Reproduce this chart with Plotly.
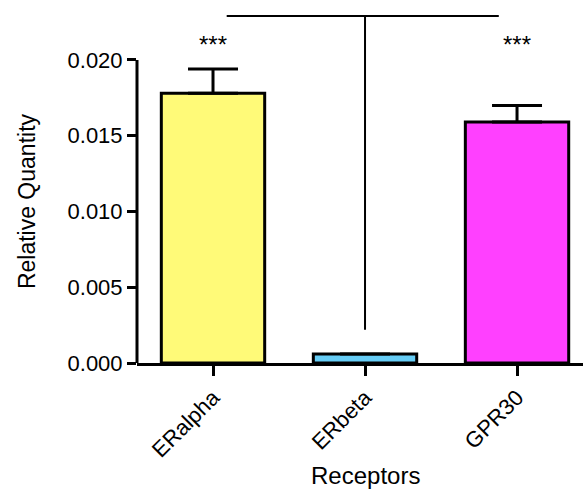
import plotly.graph_objects as go

# Relative expression of estrogen receptors
receptors = ["ERalpha", "ERbeta", "GPR30"]
quantity = [0.0178, 0.0006, 0.0159]
sem_upper = [0.0016, 0.0, 0.0011]
bar_colors = ["#FFFA78", "#66CCF5", "#FF40FF"]
significance = ["***", "", "***"]
y_ticks = [0.000, 0.005, 0.010, 0.015, 0.020]
y_tick_text = ["0.000", "0.005", "0.010", "0.015", "0.020"]

FONT = "Liberation Sans, Arial, sans-serif"

fig = go.Figure()
fig.add_trace(go.Bar(
    x=receptors,
    y=quantity,
    width=0.68,
    marker=dict(color=bar_colors, line=dict(color="black", width=3)),
    error_y=dict(type="data", symmetric=False, array=sem_upper,
                 arrayminus=[0] * len(sem_upper),
                 color="black", thickness=3, width=25),
    showlegend=False,
))

# significance stars above the bars
for r, s in zip(receptors, significance):
    if s:
        fig.add_annotation(x=r, y=0.0210, text=s, showarrow=False,
                           font=dict(family=FONT, size=24, color="black"),
                           xanchor="center", yanchor="middle")

# y axis line spanning only the ticked range
fig.add_shape(type="line", xref="paper", yref="y", x0=0, x1=0,
              y0=y_ticks[0], y1=y_ticks[-1],
              line=dict(color="black", width=3))

# comparison bracket
fig.add_shape(type="line", xref="x", yref="y", x0=0.09, x1=1.88,
              y0=0.0229, y1=0.0229, line=dict(color="black", width=2))
fig.add_shape(type="line", xref="x", yref="y", x0=1, x1=1,
              y0=0.0229, y1=0.0022, line=dict(color="black", width=2))

# axis titles
fig.add_annotation(xref="paper", yref="paper", x=-0.2466, y=0.446,
                   text="Relative Quantity", textangle=-90, showarrow=False,
                   xanchor="center", yanchor="middle",
                   font=dict(family=FONT, size=23, color="black"))
fig.add_annotation(xref="paper", yref="paper", x=0.513, y=-0.311,
                   text="Receptors", showarrow=False,
                   xanchor="center", yanchor="middle",
                   font=dict(family=FONT, size=24, color="black"))

fig.update_layout(
    width=583, height=492,
    margin=dict(l=137, r=0, t=0, b=129),
    paper_bgcolor="white", plot_bgcolor="white",
    font=dict(family=FONT, size=22, color="black"),
)
fig.update_xaxes(
    range=[-0.5, 2.434],
    showline=True, linecolor="black", linewidth=3,
    ticks="outside", ticklen=10, tickwidth=3, tickcolor="black",
    tickangle=-45, showgrid=False, zeroline=False,
    tickfont=dict(family=FONT, size=22, color="black"),
)
fig.update_yaxes(
    range=[0, 0.02396],
    showline=False, ticks="outside", ticklen=9, tickwidth=3,
    tickcolor="black", tickvals=y_ticks, ticktext=y_tick_text,
    showgrid=False, zeroline=False,
    tickfont=dict(family=FONT, size=22, color="black"),
)

fig.write_html("out.html")
